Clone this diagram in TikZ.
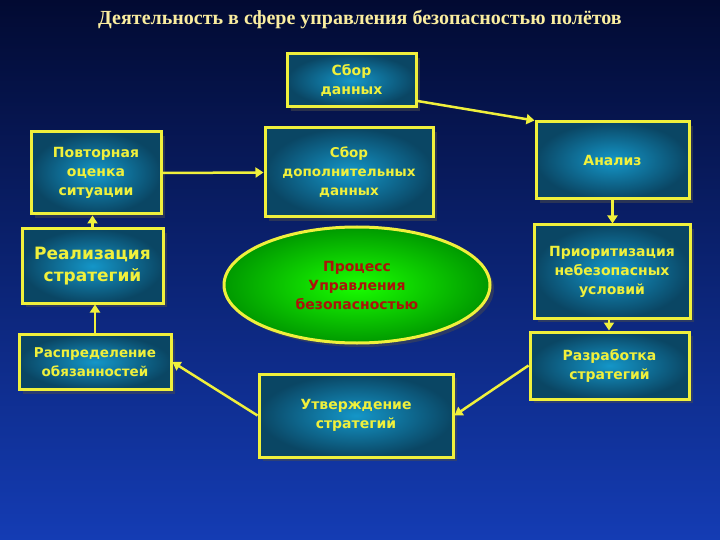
\documentclass[tikz,border=0pt]{standalone}
\usepackage{fontspec}
\setmainfont{DejaVu Sans}
\newfontfamily\titlefont{Liberation Serif}
\usetikzlibrary{shapes.geometric,arrows.meta,shadows}
\definecolor{bgtop}{RGB}{2,10,50}
\definecolor{bgbot}{RGB}{20,60,180}
\definecolor{boxmid}{RGB}{20,150,200}
\definecolor{boxedge}{RGB}{10,70,100}
\definecolor{ylw}{RGB}{240,240,60}
\definecolor{redtxt}{RGB}{170,20,10}
\begin{document}
\begin{tikzpicture}[x=1pt,y=-1pt,
  bx/.style={draw=ylw,line width=3pt,inner color=boxmid,outer color=boxedge,
    text=ylw,font=\fontsize{14}{19}\selectfont\bfseries,align=center,inner sep=1pt,
    drop shadow={shadow xshift=4pt,shadow yshift=-4pt,fill=black!70,opacity=.5}},
  ar/.style={draw=ylw,line width=2.5pt,-{Triangle[length=8pt,width=10pt]}}]
\shade[top color=bgtop,bottom color=bgbot] (0,0) rectangle (720,540);
\useasboundingbox (0,0) rectangle (720,540);
\node[text=ylw!40!white!90!orange,font=\titlefont\fontsize{20}{22}\selectfont\bfseries] (title) at (360,20) {Деятельность в сфере управления безопасностью полётов};
\node[bx,minimum width=129pt,minimum height=53pt] (sbor) at (351.5,80.5) {Сбор\\данных};
\node[bx,minimum width=130pt,minimum height=82pt] (povt) at (96,173) {Повторная\\оценка\\ситуации};
\node[bx,minimum width=168pt,minimum height=89pt,font=\fontsize{13.5}{19}\selectfont\bfseries] (dop) at (349,172.5) {Сбор\\дополнительных\\данных};
\node[bx,minimum width=153pt,minimum height=77pt] (anal) at (612.5,160.5) {Анализ};
\node[bx,minimum width=141pt,minimum height=74pt,font=\fontsize{17}{22}\selectfont\bfseries] (real) at (92.5,266) {Реализация\\стратегий};
\node[ellipse,draw=ylw,line width=3pt,inner color=green!90!yellow,outer color=green!60!black,
  text=redtxt,font=\fontsize{14}{19}\selectfont\bfseries,align=center,
  minimum width=266pt,minimum height=116pt,
  drop shadow={shadow xshift=4pt,shadow yshift=-4pt,fill=black!70,opacity=.5}] (proc) at (357,285) {Процесс\\Управления\\безопасностью};
\node[bx,minimum width=156pt,minimum height=93pt] (prio) at (612,271.5) {Приоритизация\\небезопасных\\условий};
\node[bx,minimum width=159pt,minimum height=67pt] (razr) at (609.5,365.5) {Разработка\\стратегий};
\node[bx,minimum width=152pt,minimum height=55pt,font=\fontsize{13.5}{19}\selectfont\bfseries] (rasp) at (95,362) {Распределение\\обязанностей};
\node[bx,minimum width=194pt,minimum height=83pt] (utv) at (356,415.5) {Утверждение\\стратегий};
\draw[ar] (sbor.east|-0,101) -- (anal.north west);
\draw[ar] (anal.south) -- (anal.south|-prio.north);
\draw[ar] ([xshift=-3pt]prio.south) -- ([xshift=-3pt]prio.south|-razr.north);
\draw[ar] (razr.west) -- (utv.east);
\draw[ar] (utv.west) -- (rasp.east);
\draw[ar] (rasp.north) -- (rasp.north|-real.south);
\draw[ar] (real.north) -- (real.north|-povt.south);
\draw[ar] (povt.east) -- (dop.west);
\end{tikzpicture}
\end{document}
